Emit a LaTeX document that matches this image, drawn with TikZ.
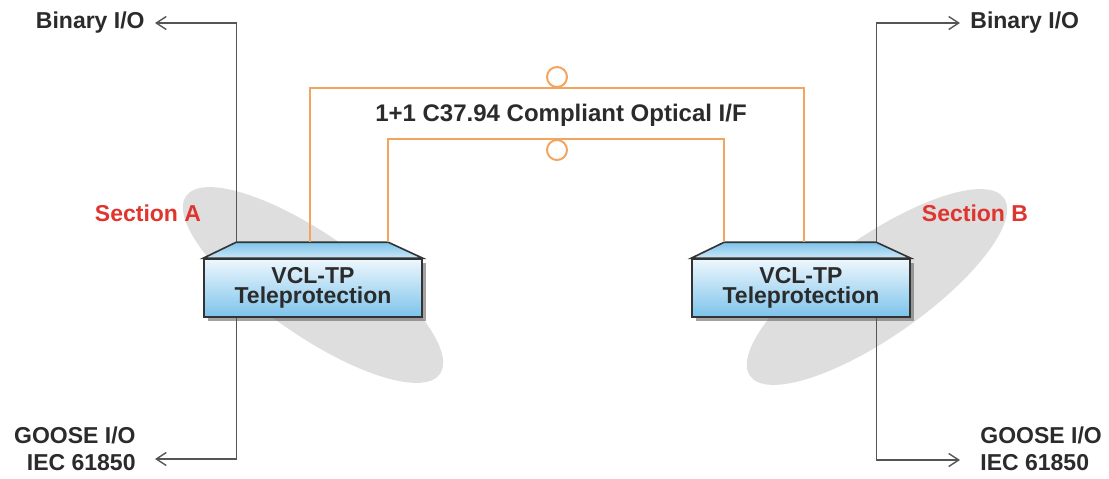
\documentclass[tikz,border=0pt]{standalone}
\usepackage{fontspec}
\setmainfont{Liberation Sans}
\usetikzlibrary{arrows.meta,shadows}

\definecolor{txtdark}{HTML}{2B2B2B}
\definecolor{secred}{HTML}{E0342F}
\definecolor{fiberc}{HTML}{F3A45E}
\definecolor{zonegray}{HTML}{DEDEDE}
\definecolor{tptop}{HTML}{EEF7FD}
\definecolor{tpbot}{HTML}{7CC3EB}
\definecolor{tpedge}{HTML}{333333}
\definecolor{iogray}{HTML}{555555}

\tikzset{
  lbl/.style={font=\fontsize{11.5}{13.5}\selectfont\bfseries, text=txtdark, inner sep=5pt},
  seclbl/.style={lbl, text=secred},
  tpbox/.style={draw=tpedge, line width=0.8pt, top color=tptop, bottom color=tpbot,
    minimum width=109pt, minimum height=29pt, inner sep=0pt, align=center,
    font=\fontsize{11.5}{10}\selectfont\bfseries, text=txtdark,
    drop shadow={shadow xshift=2pt, shadow yshift=-2pt, fill=black!60, opacity=0.6}},
  tptrap/.style={draw=tpedge, line width=0.8pt, top color=tpbot, bottom color=tptop!70!tpbot},
  zone/.style={fill=zonegray},
  fiber/.style={draw=fiberc, line width=1pt},
  ring/.style={circle, draw=fiberc, fill=white, line width=1pt, minimum size=10pt, inner sep=0pt},
  ioarrow/.style={draw=iogray, line width=0.7pt, -{Straight Barb[length=5pt,width=6.5pt]}}
}

\begin{document}
\begin{tikzpicture}[x=0.5pt,y=-0.5pt]
  %%%%% START %%%%%
  \useasboundingbox (0,0) rectangle (1109,478);

  % section zones
  \fill[zone, rotate around={-35:(313,285)}] (313,285) ellipse (155 and 50);
  \fill[zone, rotate around={35:(877,287)}] (877,287) ellipse (155 and 50);

  % teleprotection units
  \node[tpbox] (tpA) at (313,288) {VCL-TP\\Teleprotection};
  \path[tptrap] (tpA.north west) -- ++(33,-16) coordinate (tlA) -- ++(152,0) coordinate (trA)
    -- (tpA.north east) -- cycle;

  \node[tpbox] (tpB) at (801,288) {VCL-TP\\Teleprotection};
  \path[tptrap] (tpB.north west) -- ++(33,-16) coordinate (tlB) -- ++(152,0) coordinate (trB)
    -- (tpB.north east) -- cycle;

  % labels
  \node[lbl, anchor=east] (binA) at (155,23) {Binary I/O};
  \node[lbl, anchor=west] (binB) at (960,23) {Binary I/O};
  \node[lbl, anchor=east, align=right] (gooseA) at (146,449) {GOOSE I/O\\IEC 61850};
  \node[lbl, anchor=west, align=left] (gooseB) at (970,449) {GOOSE I/O\\IEC 61850};
  \coordinate (gooseAin) at (155,459);
  \coordinate (gooseBin) at (960,460);
  \node[seclbl] (secA) at (148,213) {Section A};
  \node[seclbl] (secB) at (975,213) {Section B};
  \node[lbl, font=\fontsize{12}{14}\selectfont\bfseries] (optif) at (561,115) {1+1 C37.94 Compliant Optical I/F};

  % optical links
  \node[ring] (ringO) at (557,77) {};
  \node[ring] (ringI) at (557,150) {};
  \draw[fiber] ([xshift=-1.5pt]tlA -| tpA.north) |- (ringO.south) -| ([xshift=1.5pt]tlB -| tpB.north);
  \draw[fiber] (trA) |- (ringI.north) -| (tlB);

  % binary and goose i/o
  \draw[ioarrow] (tlA) |- (binA.east);
  \draw[ioarrow] (tpA.south -| tlA) |- (gooseAin);
  \draw[ioarrow] (trB) |- (binB.west);
  \draw[ioarrow] (tpB.south -| trB) |- (gooseBin);
  %%%%% END %%%%%
\end{tikzpicture}
\end{document}
